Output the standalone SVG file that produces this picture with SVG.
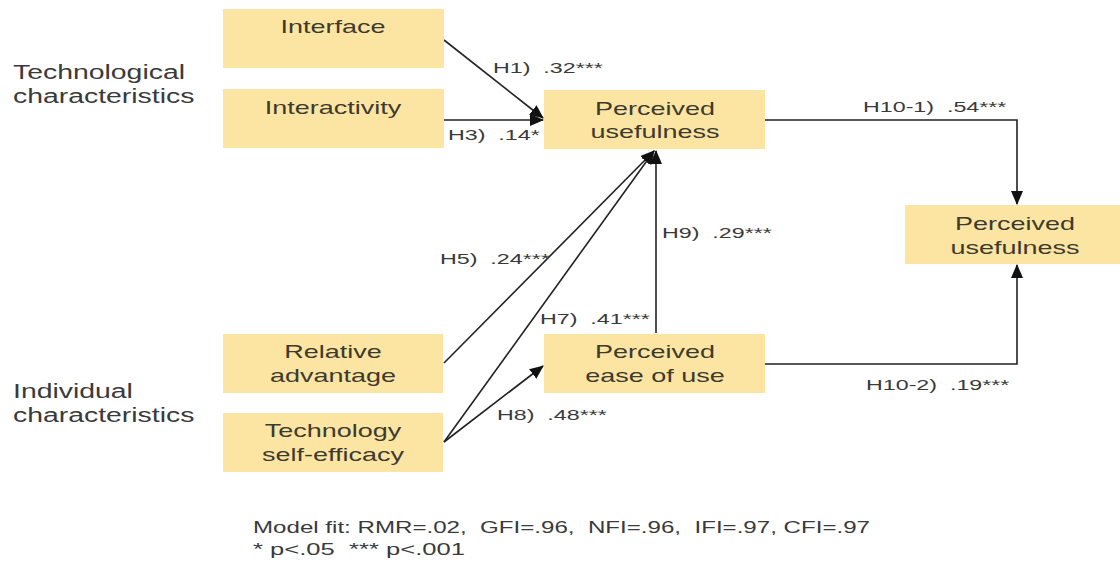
<svg xmlns="http://www.w3.org/2000/svg" width="1120" height="562" viewBox="0 0 1120 562">
<style>
.box{fill:#FCE4A2;}
.nt{font-family:"Liberation Sans",Arial,sans-serif;font-size:19px;fill:#3d3a2e;text-anchor:middle;}
.lt{font-family:"Liberation Sans",Arial,sans-serif;font-size:20px;fill:#3a3a3a;}
.el{font-family:"Liberation Sans",Arial,sans-serif;font-size:15.5px;fill:#3a3a3a;white-space:pre;}
.ft{font-family:"Liberation Sans",Arial,sans-serif;font-size:17px;fill:#3a3a3a;white-space:pre;}
.cn{fill:none;stroke:#222;stroke-width:1.6;}
</style>
<defs>
<marker id="ah" viewBox="0 0 14 12" refX="13" refY="6" markerWidth="14" markerHeight="12" markerUnits="userSpaceOnUse" orient="auto">
<path d="M0,0 L14,6 L0,12 Z" fill="#111"/>
</marker>
</defs>
<rect width="1120" height="562" fill="#fff"/>

<g id="label-tech">
<text class="lt" transform="translate(13,79) scale(1.42,1)">Technological</text>
<text class="lt" transform="translate(13,103) scale(1.42,1)">characteristics</text>
</g>
<g id="label-indiv">
<text class="lt" transform="translate(13,398) scale(1.42,1)">Individual</text>
<text class="lt" transform="translate(13,422) scale(1.42,1)">characteristics</text>
</g>

<g id="connectors">
<path class="cn" d="M444,40 L543,118" marker-end="url(#ah)"/>
<path class="cn" d="M444,120 L543,120" marker-end="url(#ah)"/>
<path class="cn" d="M444,363 L654,151" marker-end="url(#ah)"/>
<path class="cn" d="M444,442 L654,151" marker-end="url(#ah)"/>
<path class="cn" d="M444,442 L543,366" marker-end="url(#ah)"/>
<path class="cn" d="M656,333 L656,151" marker-end="url(#ah)"/>
<path class="cn" d="M765,120 H1017 V204" marker-end="url(#ah)"/>
<path class="cn" d="M765,364 H1017 V265" marker-end="url(#ah)"/>
<text class="el" transform="translate(493,73) scale(1.5,1)">H1)  .32***</text>
<text class="el" transform="translate(448,140) scale(1.5,1)">H3)  .14*</text>
<text class="el" transform="translate(440,264) scale(1.5,1)">H5)  .24***</text>
<text class="el" transform="translate(540,324) scale(1.5,1)">H7)  .41***</text>
<text class="el" transform="translate(497,420) scale(1.5,1)">H8)  .48***</text>
<text class="el" transform="translate(662,238) scale(1.5,1)">H9)  .29***</text>
<text class="el" transform="translate(863,112) scale(1.5,1)">H10-1)  .54***</text>
<text class="el" transform="translate(866,390) scale(1.5,1)">H10-2)  .19***</text>
</g>

<g id="node-interface">
<rect class="box" x="223" y="9" width="221" height="59"/>
<text class="nt" transform="translate(333,33) scale(1.42,1)">Interface</text>
</g>
<g id="node-interactivity">
<rect class="box" x="223" y="89" width="221" height="59"/>
<text class="nt" transform="translate(333,114) scale(1.42,1)">Interactivity</text>
</g>
<g id="node-pu">
<rect class="box" x="544" y="90" width="221" height="59"/>
<text class="nt" transform="translate(655,115) scale(1.42,1)">Perceived</text>
<text class="nt" transform="translate(655,138) scale(1.42,1)">usefulness</text>
</g>
<g id="node-pu2">
<rect class="box" x="905" y="205" width="215" height="59"/>
<text class="nt" transform="translate(1015,230) scale(1.42,1)">Perceived</text>
<text class="nt" transform="translate(1015,254) scale(1.42,1)">usefulness</text>
</g>
<g id="node-ra">
<rect class="box" x="223" y="334" width="220" height="59"/>
<text class="nt" transform="translate(333,358) scale(1.42,1)">Relative</text>
<text class="nt" transform="translate(333,382) scale(1.42,1)">advantage</text>
</g>
<g id="node-peou">
<rect class="box" x="544" y="334" width="221" height="59"/>
<text class="nt" transform="translate(655,358) scale(1.42,1)">Perceived</text>
<text class="nt" transform="translate(655,382) scale(1.42,1)">ease of use</text>
</g>
<g id="node-tse">
<rect class="box" x="223" y="413" width="220" height="59"/>
<text class="nt" transform="translate(333,437) scale(1.42,1)">Technology</text>
<text class="nt" transform="translate(333,461) scale(1.42,1)">self-efficacy</text>
</g>

<g id="footnote">
<text class="ft" x="253" y="533" textLength="617" lengthAdjust="spacingAndGlyphs">Model fit: RMR=.02,  GFI=.96,  NFI=.96,  IFI=.97, CFI=.97</text>
<text class="ft" x="253" y="555" textLength="212" lengthAdjust="spacingAndGlyphs">* p&lt;.05  *** p&lt;.001</text>
</g>
</svg>
